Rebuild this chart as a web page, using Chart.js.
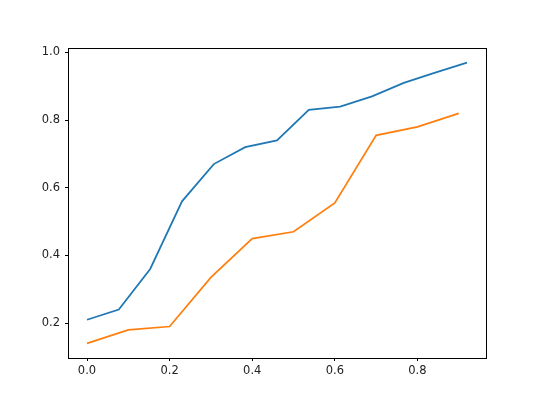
<!DOCTYPE html>
<html>
<head>
<meta charset="utf-8">
<script src="https://cdn.jsdelivr.net/npm/chart.js@4"></script>
<style>
  html, body { margin: 0; padding: 0; background: #fff; }
  #wrap { width: 540px; height: 402px; }
</style>
</head>
<body>
<div id="wrap"><canvas id="chart" width="540" height="402"></canvas></div>
<script>
// series
const blueX = [0, 0.077, 0.153, 0.23, 0.307, 0.383, 0.46, 0.537, 0.613, 0.69, 0.767, 0.843, 0.92];
const blueY = [0.21, 0.24, 0.36, 0.56, 0.67, 0.72, 0.74, 0.83, 0.84, 0.87, 0.91, 0.94, 0.97];
const orangeX = [0, 0.1, 0.2, 0.3, 0.4, 0.5, 0.6, 0.7, 0.8, 0.9];
const orangeY = [0.14, 0.18, 0.19, 0.335, 0.45, 0.47, 0.555, 0.755, 0.78, 0.82];
const xTicks = [0, 0.2, 0.4, 0.6, 0.8];
const yTicks = [0.2, 0.4, 0.6, 0.8, 1.0];

const toPoints = (xs, ys) => xs.map((x, i) => ({ x: x, y: ys[i] }));

// draws the top and right spines (box round the plot)
const frame = {
  id: 'frame',
  afterDraw(chart) {
    const { ctx, chartArea: a } = chart;
    ctx.save();
    ctx.strokeStyle = '#000';
    ctx.lineWidth = 1;
    ctx.strokeRect(Math.round(a.left) + 0.5, Math.round(a.top) + 0.5,
      Math.round(a.right - a.left), Math.round(a.bottom - a.top));
    ctx.restore();
  }
};

const tickFont = { family: 'DejaVu Sans', size: 11.5 };

new Chart(document.getElementById('chart').getContext('2d'), {
  type: 'line',
  data: {
    datasets: [
      {
        data: toPoints(blueX, blueY),
        borderColor: '#1f77b4',
        borderWidth: 1.75,
        pointRadius: 0,
        tension: 0,
        fill: false
      },
      {
        data: toPoints(orangeX, orangeY),
        borderColor: '#ff7f0e',
        borderWidth: 1.75,
        pointRadius: 0,
        tension: 0,
        fill: false
      }
    ]
  },
  plugins: [frame],
  options: {
    responsive: false,
    animation: false,
    layout: { padding: { left: 0, top: 48, right: 54, bottom: 0 } },
    plugins: {
      legend: { display: false },
      tooltip: { enabled: false }
    },
    scales: {
      x: {
        type: 'linear',
        min: -0.046,
        max: 0.966,
        afterBuildTicks: (axis) => { axis.ticks = xTicks.map(v => ({ value: v })); },
        afterFit: (axis) => { axis.height = 44; },
        grid: { drawOnChartArea: false, drawTicks: true, tickLength: 3, tickColor: '#000' },
        border: { display: true, color: '#000', width: 1 },
        ticks: {
          color: '#222',
          font: tickFont,
          padding: 3,
          maxRotation: 0,
          callback: (v) => v.toFixed(1)
        }
      },
      y: {
        type: 'linear',
        min: 0.097,
        max: 1.013,
        afterBuildTicks: (axis) => { axis.ticks = yTicks.map(v => ({ value: v })); },
        afterFit: (axis) => { axis.width = 68; },
        grid: { drawOnChartArea: false, drawTicks: true, tickLength: 3, tickColor: '#000' },
        border: { display: true, color: '#000', width: 1 },
        ticks: {
          color: '#222',
          font: tickFont,
          padding: 5,
          callback: (v) => v.toFixed(1)
        }
      }
    }
  }
});
</script>
</body>
</html>
